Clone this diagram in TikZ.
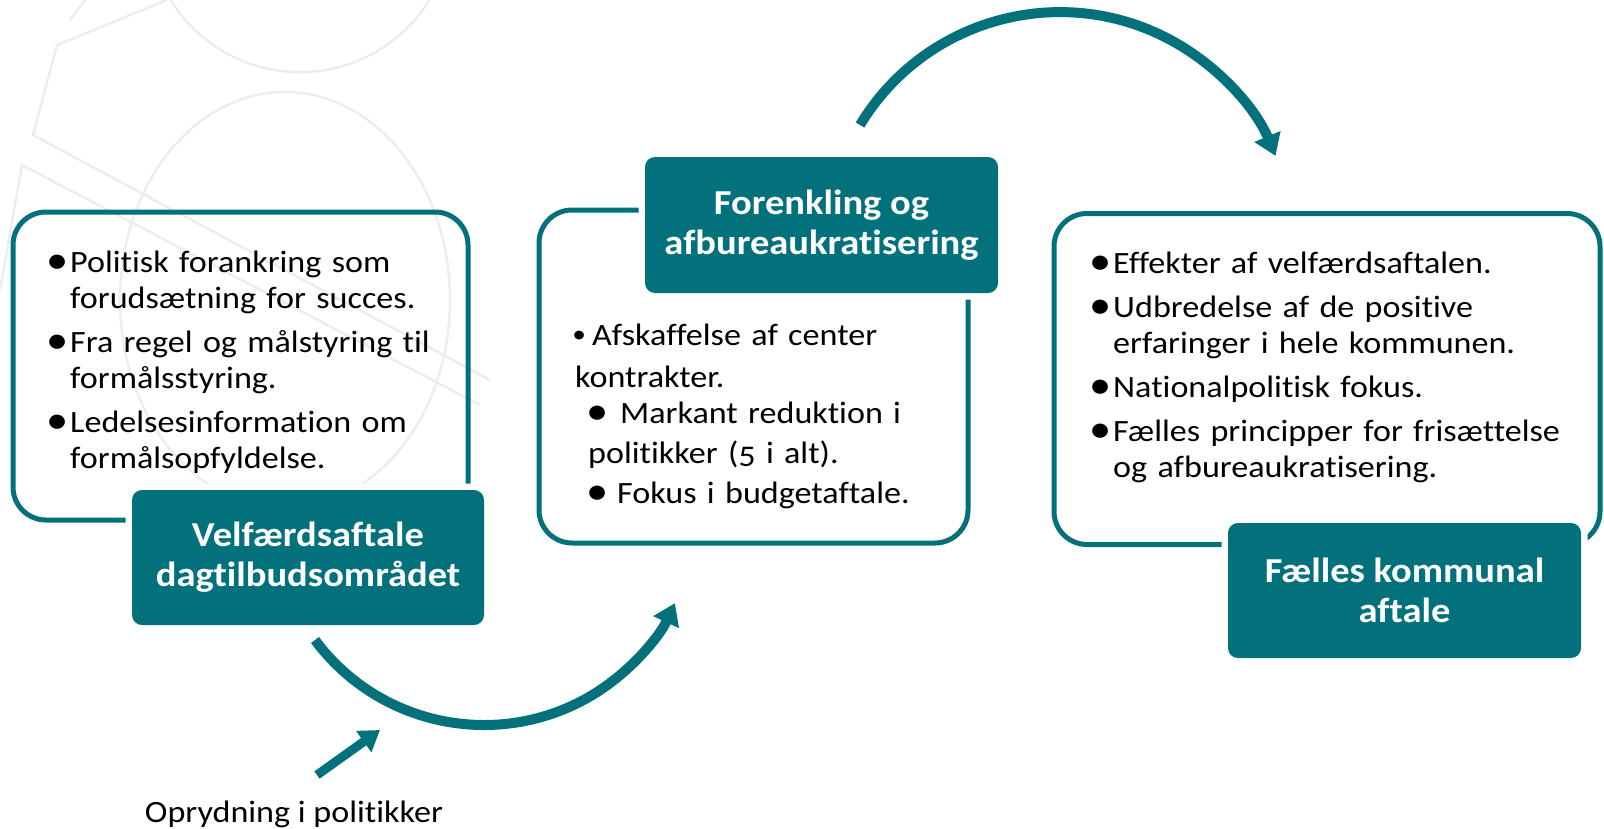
\documentclass[tikz,border=0pt]{standalone}
\usepackage{fontspec}
\setmainfont{Carlito}[FakeStretch=1.1, RawFeature=-liga, Numbers=OldStyle]
\usetikzlibrary{arrows.meta}

\definecolor{petrol}{RGB}{3,113,123}
\definecolor{vandmaerke}{RGB}{237,237,237}

% prikker: kasse uden bredde, centreret om det aktuelle punkt
\newcommand{\prik}{\makebox[0pt][c]{\raisebox{-1.2pt}{\scalebox{1.3}{\textbullet}}}}
\newcommand{\lilleprik}{\makebox[0pt][c]{\raisebox{2.5pt}{\scalebox{0.8}{\textbullet}}}}
\newcommand{\punkt}[1]{\parskip=8pt\hangindent=18pt\hangafter=1\noindent\makebox[18pt][l]{\hspace*{5pt}\prik}#1\par}

\tikzset{
  ramme/.style={draw=petrol, line width=5pt, rounded corners=33pt},
  titel/.style={fill=petrol, rounded corners=10pt, text=white, align=center,
    font=\fontsize{35}{40}\selectfont\bfseries, inner sep=0pt,
    preaction={draw=white, line width=13pt}},
  tekst/.style={anchor=base west, inner sep=0pt, text width=470pt, align=left,
    font=\fontsize{31}{36}\selectfont},
  pil/.style={draw=petrol, line width=10pt, -{Triangle[width=27pt,length=21pt]}},
  lillepil/.style={draw=petrol, line width=9pt, -{Triangle[width=25pt,length=20pt]}},
}

\begin{document}
\begin{tikzpicture}[x=1pt,y=-1pt]
\useasboundingbox (0,0) rectangle (1604,828);

% vandmaerke
\begin{scope}[draw=vandmaerke, line width=2.5pt]
\draw (170.7,0) arc[start angle=148.3, end angle=31.7, radius=152];
\draw (285,300) ellipse[x radius=165, y radius=208];
\draw (167,0) -- (57,45) -- (33,135) -- (490,380);
\draw (0,290) -- (22,165) -- (480,405);
\draw (70,20) -- (85,0);
\end{scope}

% rammer
\node[ramme, minimum width=455pt, minimum height=308pt] (rammeA) at (240.5,366) {};
\node[ramme, minimum width=429pt, minimum height=333pt] (rammeB) at (753.5,376.5) {};
\node[ramme, minimum width=546pt, minimum height=331pt] (rammeC) at (1327,379) {};

% titler
\node[titel, minimum width=352pt, minimum height=135pt] (titelA) at (308,557.5) {Velfærdsaftale\\dagtilbudsområdet};
\node[titel, minimum width=353pt, minimum height=136pt] (titelB) at (821.5,225) {Forenkling og\\afbureaukratisering};
\node[titel, minimum width=353pt, minimum height=135pt] (titelC) at (1404.5,590.5) {Fælles kommunal\\aftale};

% punkter
\node[tekst] (punkterA) at (52,272) {%
\punkt{Politisk forankring som\newline forudsætning for succes.}%
\punkt{Fra regel og målstyring til\newline formålsstyring.}%
\punkt{Ledelsesinformation om\newline formålsopfyldelse.}};

\node[tekst] (punkterB) at (575,345) {%
\hspace*{4pt}\lilleprik\hspace*{13pt}Afskaffelse af center\\[6pt]
kontrakter.\\
\hspace*{22.5pt}\prik\hspace*{22.5pt}Markant reduktion i\\[4pt]
\hspace*{13pt}politikker (5 i alt).\\[4pt]
\hspace*{22.5pt}\prik\hspace*{19.5pt}Fokus i budgetaftale.};

\node[tekst] (punkterC) at (1095,273) {%
\punkt{Effekter af velfærdsaftalen.}%
\punkt{Udbredelse af de positive\newline erfaringer i hele kommunen.}%
\punkt{Nationalpolitisk fokus.}%
\punkt{Fælles principper for frisættelse\newline og afbureaukratisering.}};

% pile
\coordinate (bueA) at (315,640);
\coordinate (bueB) at (860,125);
\draw[pil] (bueA) arc[start angle=143.4, end angle=24.9, radius=210.5];
\draw[pil] (bueB) arc[start angle=211.1, end angle=337.4, radius=233.5];

\node[font=\fontsize{31}{36}\selectfont, anchor=base, inner sep=0pt] (oprydning) at (294,822) {Oprydning i politikker};
\coordinate (haleA) at (317,775);
\coordinate (spidsA) at (380,730);
\draw[lillepil] (haleA) -- (spidsA);
\end{tikzpicture}
\end{document}
